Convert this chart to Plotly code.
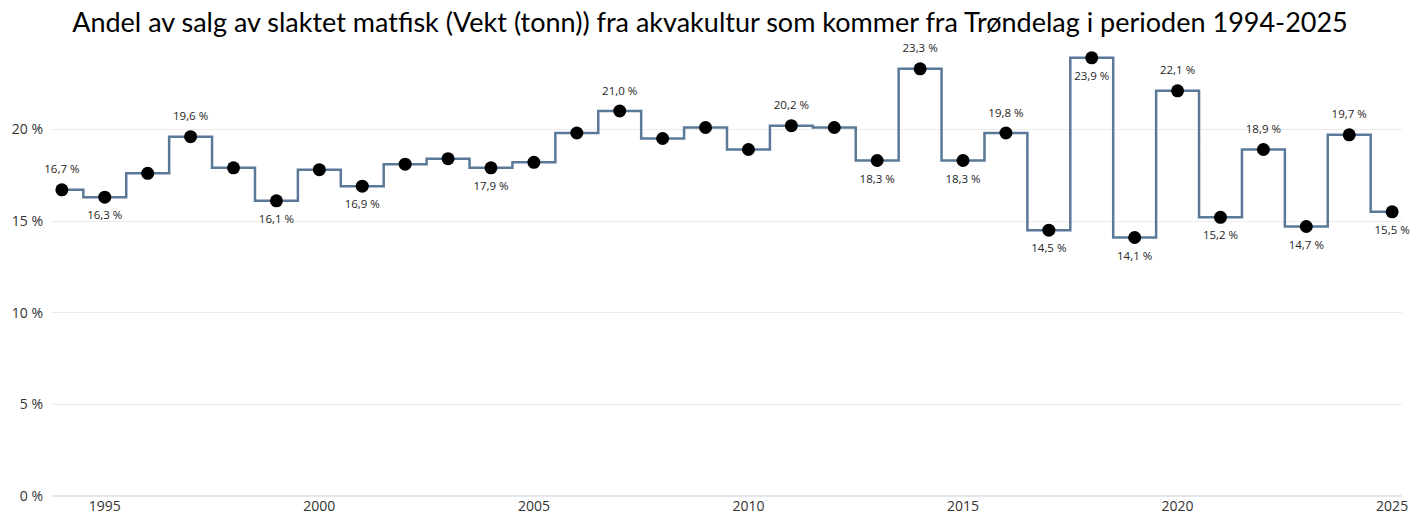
import plotly.graph_objects as go

years = list(range(1994, 2026))
values = [16.7, 16.3, 17.6, 19.6, 17.9, 16.1, 17.8, 16.9, 18.1, 18.4, 17.9, 18.2,
          19.8, 21.0, 19.5, 20.1, 18.9, 20.2, 20.1, 18.3, 23.3, 18.3, 19.8, 14.5,
          23.9, 14.1, 22.1, 15.2, 18.9, 14.7, 19.7, 15.5]
label_above = [1994, 1997, 2007, 2011, 2014, 2016, 2020, 2022, 2024]
label_below = [1995, 1999, 2001, 2004, 2013, 2015, 2017, 2018, 2019, 2021, 2023, 2025]
y_ticks = [0, 5, 10, 15, 20]
x_ticks = [1995, 2000, 2005, 2010, 2015, 2020, 2025]

def fmt(v):
    return f"{v:.1f}".replace(".", ",") + " %"

texts = []
positions = []
for y, v in zip(years, values):
    if y in label_above:
        texts.append(fmt(v)); positions.append("top center")
    elif y in label_below:
        texts.append(fmt(v)); positions.append("bottom center")
    else:
        texts.append(""); positions.append("top center")

fig = go.Figure()
fig.add_trace(go.Scatter(x=years, y=values, mode="lines", line=dict(shape="hvh", color="#5a7999", width=2.5),
                         hoverinfo="skip", showlegend=False, cliponaxis=False))
fig.add_trace(go.Scatter(x=years, y=values, mode="markers+text",
                         marker=dict(color="rgba(0,0,0,0)", size=20),
                         text=texts, textposition=positions, cliponaxis=False, hoverinfo="skip",
                         textfont=dict(size=11.5, color="#252525", family="Open Sans"),
                         showlegend=False))
fig.add_trace(go.Scatter(x=years, y=values, mode="markers", marker=dict(color="black", size=13),
                         cliponaxis=False, showlegend=False))

fig.update_layout(
    width=1420, height=530,
    margin=dict(l=50, r=17, t=45, b=34),
    paper_bgcolor="white", plot_bgcolor="white",
    title=dict(text="Andel av salg av slaktet matfisk (Vekt (tonn)) fra akvakultur som kommer fra Trøndelag i perioden 1994-2025",
               x=0.5, xanchor="center", y=0.975, yanchor="top",
               font=dict(family="Lato", size=27, color="black")),
    xaxis=dict(range=[1993.77, 2025.23], tickvals=x_ticks, ticktext=[str(t) for t in x_ticks],
               showgrid=False, zeroline=False, showline=False, ticks="",
               tickfont=dict(family="Open Sans", size=14, color="#333")),
    yaxis=dict(range=[0, 24.6], tickvals=y_ticks, ticktext=[f"{t} %" for t in y_ticks],
               showgrid=True, gridcolor="#ebebeb", gridwidth=1, zeroline=True, zerolinecolor="#e1e7ef",
               zerolinewidth=1.5, showline=False, ticks="", ticklabelstandoff=8,
               tickfont=dict(family="Open Sans", size=14, color="#333")),
)
fig.write_html("out.html")
